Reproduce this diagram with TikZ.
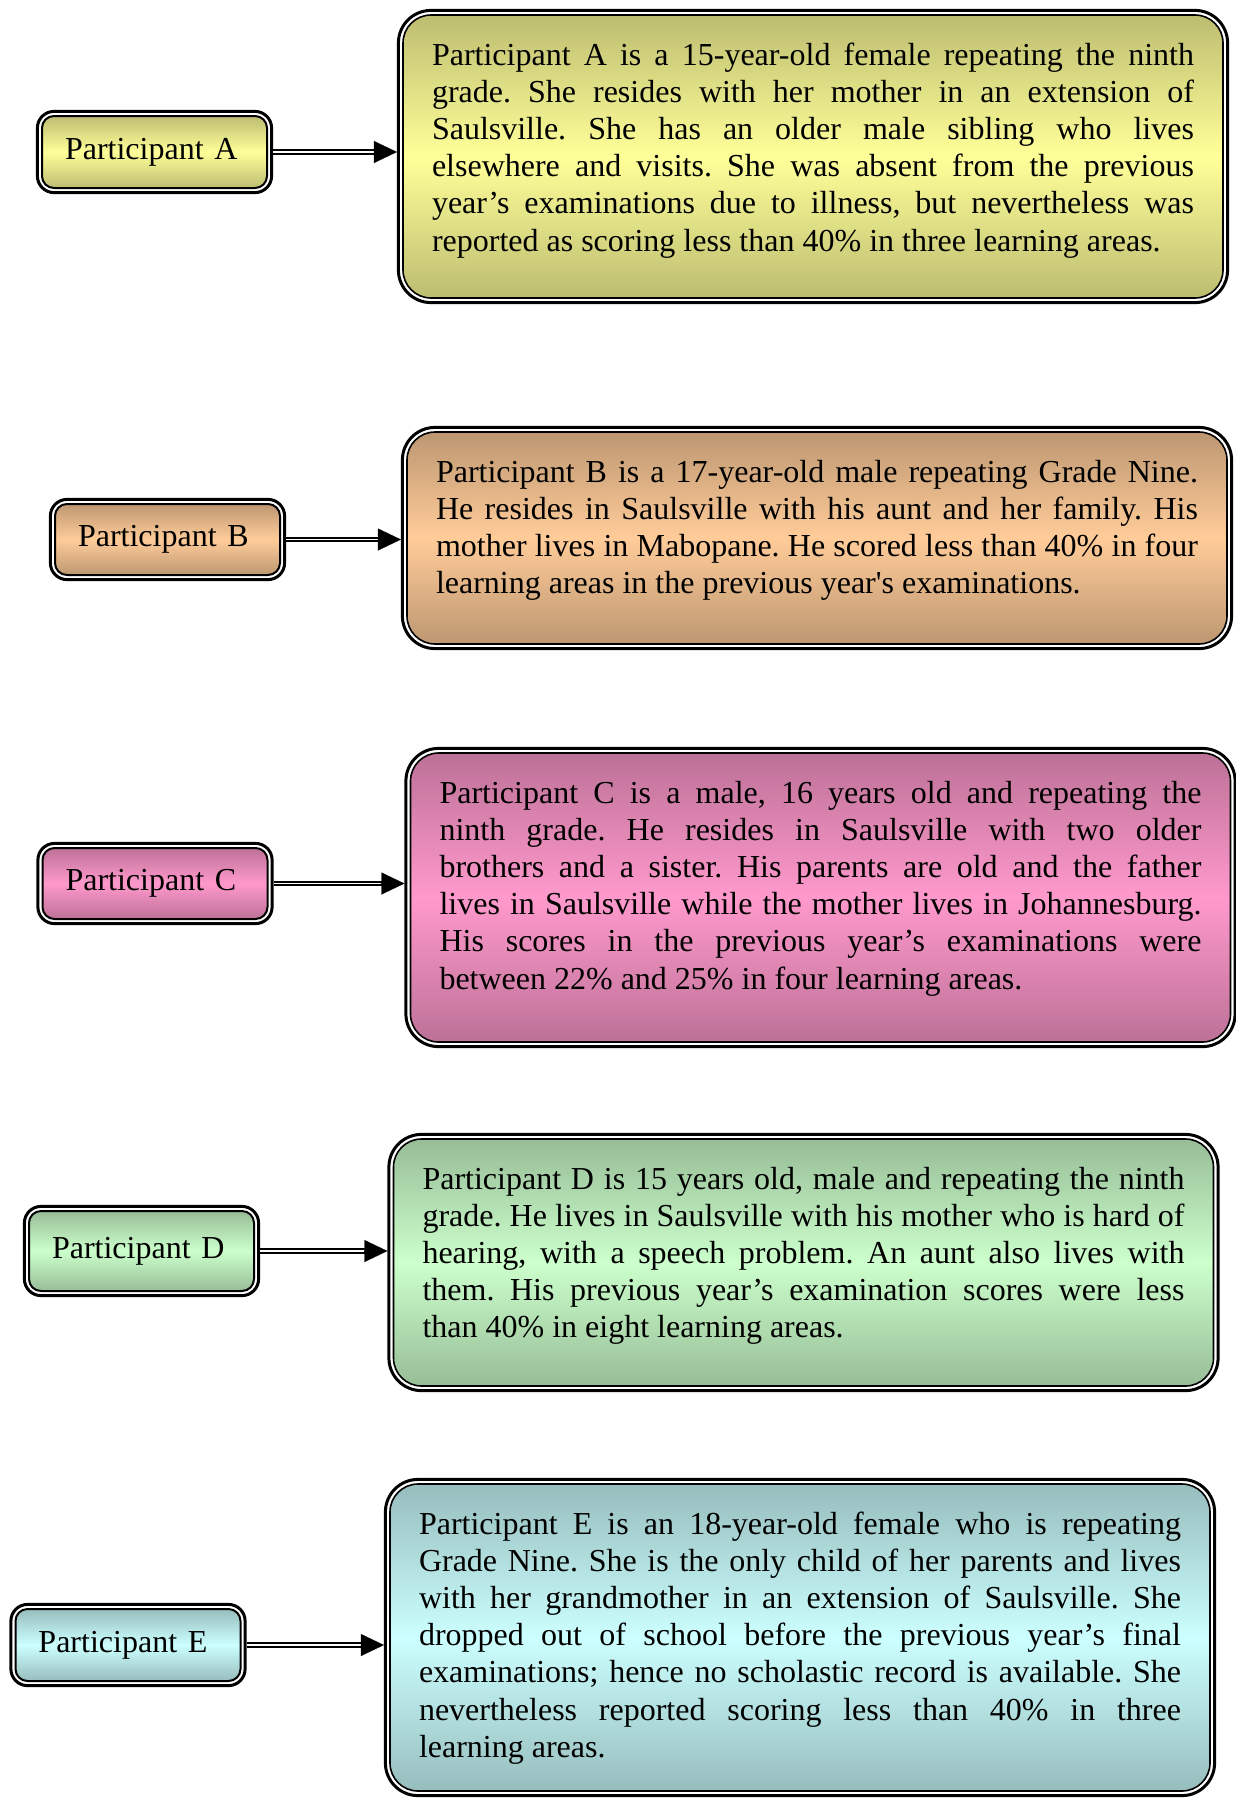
\documentclass[tikz,border=0pt]{standalone}
\usepackage{fontspec}
\setmainfont{Liberation Serif}
\usetikzlibrary{arrows.meta}
\tolerance=10000
\hyphenpenalty=10000
\exhyphenpenalty=10000
\frenchspacing
\definecolor{cA}{HTML}{FFFF99}
\definecolor{cB}{HTML}{FFCC99}
\definecolor{cC}{HTML}{FF99CC}
\definecolor{cD}{HTML}{CCFFCC}
\definecolor{cE}{HTML}{CCFFFF}
\tikzset{
  txtfont/.style={font=\fontsize{16pt}{18.6pt}\selectfont\frenchspacing},
  grad/.style={top color=#1!74!black, bottom color=#1!74!black, middle color=#1},
  bigbox/.style={draw=black, line width=0.8pt, rounded corners=14pt, outer sep=3.05pt,
    minimum width=410pt, inner xsep=0pt, inner ysep=0pt, text width=381pt, align=justify,
    text height=25pt, text depth=#1, txtfont},
  smallbox/.style={draw=black, line width=1pt, rounded corners=6pt, outer sep=3.05pt,
    inner xsep=11.5pt, inner ysep=0pt, text width=89.5pt, align=left, txtfont},
  frameline/.style={draw=black, line width=1.5pt, rounded corners=#1},
  shaft/.style={draw=black, double=white, line width=1pt, double distance=0.9pt, shorten >=10pt},
  head/.style={draw=black, line width=0.1pt, -{Triangle[length=11.5pt,width=11pt]}}
}
\newcommand{\outerframe}[2]{%
  \draw[frameline=#2] ([shift={(0.75pt,-0.75pt)}]#1.north west) rectangle ([shift={(-0.75pt,0.75pt)}]#1.south east);}
\newcommand{\connect}[2]{%
  \draw[shaft] (#1.east) -- (#1.east -| #2.west);
  \draw[head] ([xshift=-11.5pt]#1.east -| #2.west) -- (#1.east -| #2.west);}
\begin{document}
\begin{tikzpicture}[x=0.5pt,y=-0.5pt]
\useasboundingbox (0,0) rectangle (1236,1800);

% small boxes
\node[smallbox, grad=cA, minimum height=36pt] (pa) at (154.5,152) {Participant A};
\node[smallbox, grad=cB, minimum height=35.5pt] (pb) at (167.5,539.5) {Participant B};
\node[smallbox, grad=cC, minimum height=35.5pt] (pc) at (155,883.5) {Participant C};
\node[smallbox, grad=cD, minimum height=40pt] (pd) at (141.5,1251) {Participant D};
\node[smallbox, grad=cE, minimum height=36pt] (pe) at (128,1645) {Participant E};

% big boxes
\node[bigbox=116.5pt, grad=cA] (ba) at (813,156.5) {Participant A is a 15-year-old female repeating the ninth\linebreak
grade. She resides with her mother in an extension of\linebreak
Saulsville. She has an older male sibling who lives\linebreak
elsewhere and visits. She was absent from the previous\linebreak
year’s examinations due to illness, but nevertheless was\linebreak
reported as scoring less than 40\% in three learning areas.};

\node[bigbox=81pt, grad=cB] (bb) at (817,538) {Participant B is a 17-year-old male repeating Grade Nine.\linebreak
He resides in Saulsville with his aunt and her family. His\linebreak
mother lives in Mabopane. He scored less than 40\% in four\linebreak
learning areas in the previous year\textquotesingle s examinations.};

\node[bigbox=119.5pt, grad=cC] (bc) at (820.5,897.5) {Participant C is a male, 16 years old and repeating the\linebreak
ninth grade. He resides in Saulsville with two older\linebreak
brothers and a sister. His parents are old and the father\linebreak
lives in Saulsville while the mother lives in Johannesburg.\linebreak
His scores in the previous year’s examinations were\linebreak
between 22\% and 25\% in four learning areas.};

\node[bigbox=98.5pt, grad=cD] (bd) at (803.5,1262.5) {Participant D is 15 years old, male and repeating the ninth\linebreak
grade. He lives in Saulsville with his mother who is hard of\linebreak
hearing, with a speech problem. An aunt also lives with\linebreak
them. His previous year’s examination scores were less\linebreak
than 40\% in eight learning areas.};

\node[bigbox=128.5pt, grad=cE] (be) at (800,1637.5) {Participant E is an 18-year-old female who is repeating\linebreak
Grade Nine. She is the only child of her parents and lives\linebreak
with her grandmother in an extension of Saulsville. She\linebreak
dropped out of school before the previous year’s final\linebreak
examinations; hence no scholastic record is available. She\linebreak
nevertheless reported scoring less than 40\% in three\linebreak
learning areas.};

% outer frames
\outerframe{pa}{8.3pt}\outerframe{pb}{8.3pt}\outerframe{pc}{8.3pt}\outerframe{pd}{8.3pt}\outerframe{pe}{8.3pt}
\outerframe{ba}{16.3pt}\outerframe{bb}{16.3pt}\outerframe{bc}{16.3pt}\outerframe{bd}{16.3pt}\outerframe{be}{16.3pt}

% connectors
\connect{pa}{ba}
\connect{pb}{bb}
\connect{pc}{bc}
\connect{pd}{bd}
\connect{pe}{be}
\end{tikzpicture}
\end{document}
